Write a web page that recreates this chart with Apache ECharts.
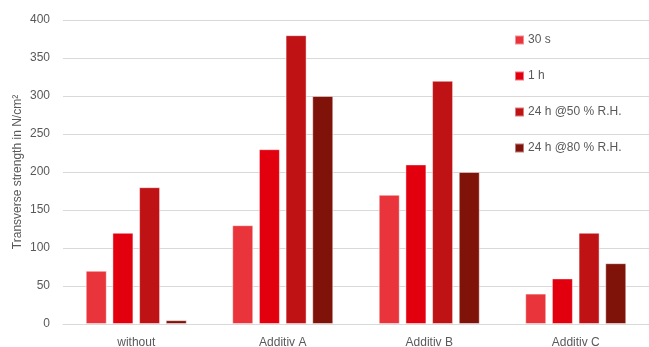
<!DOCTYPE html>
<html>
<head>
<meta charset="utf-8">
<script src="https://cdn.jsdelivr.net/npm/echarts@6/dist/echarts.min.js"></script>
<style>
  html, body { margin: 0; padding: 0; background: #fff; }
  #chart { width: 649px; height: 347px; }
</style>
</head>
<body>
<div id="chart"></div>
<script>
// Transverse strength per additive after different storage conditions
const categories = ['without', 'Additiv A', 'Additiv B', 'Additiv C'];
const seriesNames = ['30 s', '1 h', '24 h @50 % R.H.', '24 h @80 % R.H.'];
const values30s = [70, 130, 170, 40];
const values1h = [120, 230, 210, 60];
const values24h50 = [180, 380, 320, 120];
const values24h80 = [5, 300, 200, 80];
const yTicks = [0, 50, 100, 150, 200, 250, 300, 350, 400];

const colors = ['#E8343A', '#E2000F', '#BE1214', '#7F1209'];
const allValues = [values30s, values1h, values24h50, values24h80];

const chart = echarts.init(document.getElementById('chart'));
chart.setOption({
  animation: false,
  textStyle: { fontFamily: 'Liberation Sans, Arial, sans-serif' },
  grid: { left: 63, right: 0, top: 20, bottom: 23, containLabel: false, outerBoundsMode: 'none' },
  legend: {
    orient: 'vertical',
    left: 509,
    top: 29,
    itemWidth: 9,
    itemHeight: 9,
    itemGap: 24,
    icon: 'rect',
    textStyle: { color: '#595959', fontSize: 12, padding: [0, 0, 0, -1] },
    data: seriesNames
  },
  xAxis: {
    type: 'category',
    data: categories,
    axisTick: { show: false },
    axisLine: { lineStyle: { color: '#d9d9d9' } },
    axisLabel: { color: '#595959', fontSize: 12, margin: 13 }
  },
  yAxis: {
    type: 'value',
    min: yTicks[0],
    max: yTicks[yTicks.length - 1],
    interval: 50,
    name: 'Transverse strength in N/cm²',
    nameLocation: 'middle',
    nameGap: 39,
    nameMoveOverlap: false,
    nameTextStyle: { color: '#595959', fontSize: 12 },
    axisLine: { show: false },
    axisTick: { show: false },
    axisLabel: { color: '#595959', fontSize: 12, margin: 13 },
    splitLine: { lineStyle: { color: '#d9d9d9' } }
  },
  series: seriesNames.map((name, i) => ({
    name: name,
    type: 'bar',
    data: allValues[i],
    barWidth: 21,
    barGap: '27%',
    itemStyle: { color: colors[i], borderColor: 'rgba(255,255,255,0.45)', borderWidth: 1 }
  }))
});
</script>
</body>
</html>
